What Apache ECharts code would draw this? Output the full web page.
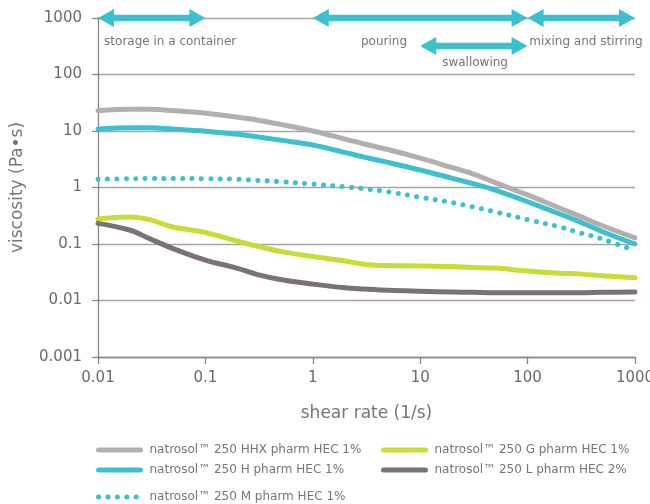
<!DOCTYPE html>
<html>
<head>
<meta charset="utf-8">
<script src="https://cdn.jsdelivr.net/npm/echarts@6/dist/echarts.min.js"></script>
<style>
html,body{margin:0;padding:0;background:#fff;}
#chart{width:650px;height:504px;}
</style>
</head>
<body>
<div id="chart"></div>
<script>
// ---- data ----
const shearRates = [0.01, 0.02, 0.03, 0.05, 0.1, 0.2, 0.3, 0.5, 1, 2, 3, 5, 10, 20, 30, 50, 100, 200, 300, 500, 1000];
const seriesNames = [
  'natrosol™ 250 HHX pharm HEC 1%',
  'natrosol™ 250 H pharm HEC 1%',
  'natrosol™ 250 M pharm HEC 1%',
  'natrosol™ 250 G pharm HEC 1%',
  'natrosol™ 250 L pharm HEC 2%'
];
const hhxValues = [22.9, 24.2, 24.2, 22.9, 20.6, 17.5, 15.7, 13.1, 10.0, 7.2, 5.9, 4.7, 3.3, 2.24, 1.78, 1.22, 0.74, 0.43, 0.314, 0.21, 0.128];
const hValues   = [10.8, 11.4, 11.4, 10.8, 9.9, 8.75, 7.9, 6.9, 5.65, 4.15, 3.45, 2.78, 2.04, 1.45, 1.19, 0.9, 0.56, 0.34, 0.25, 0.165, 0.1];
const mValues   = [1.40, 1.43, 1.44, 1.44, 1.43, 1.40, 1.34, 1.27, 1.15, 1.03, 0.95, 0.84, 0.67, 0.54, 0.46, 0.37, 0.27, 0.2, 0.16, 0.122, 0.076];
const gValues   = [0.277, 0.30, 0.27, 0.20, 0.16, 0.112, 0.092, 0.074, 0.06, 0.05, 0.044, 0.0415, 0.041, 0.04, 0.0385, 0.0375, 0.0333, 0.0305, 0.0296, 0.0275, 0.0253];
const lValues   = [0.232, 0.175, 0.125, 0.083, 0.052, 0.037, 0.029, 0.0235, 0.0195, 0.0168, 0.016, 0.0152, 0.0146, 0.0141, 0.014, 0.0137, 0.0137, 0.0137, 0.0137, 0.014, 0.0141];

// usage ranges (arrows) in data space
const arrowLabels = ['storage in a container', 'pouring', 'mixing and stirring', 'swallowing'];
const arrowStart  = [0.01, 1, 100, 10];
const arrowEnd    = [0.1, 100, 1000, 100];
const arrowLevel  = [1000, 1000, 1000, 320];
const arrowLabelX = [0.047, 4.6, 350, 32.4];
const arrowLabelY = [380, 380, 380, 160];

const xTicks = ['0.01', '0.1', '1', '10', '100', '1000'];
const yTicks = ['0.001', '0.01', '0.1', '1', '10', '100', '1000'];

// ---- style ----
const FONT = 'DejaVu Sans';
const TXT = '#7a7472';
const colors = ['#b4aeac', '#3cc0cd', '#3cc0cd', '#c9db36', '#7a7371'];
const dashes = ['solid', 'solid', [0.1, 9.3], 'solid', 'solid'];
const valueSets = [hhxValues, hValues, mValues, gValues, lValues];

function pairs(vals) { return shearRates.map((x, i) => [x, vals[i]]); }
function fmt(v) { return String(+Number(v).toPrecision(6)); }

const lineSeries = seriesNames.map((name, i) => ({
  name: name,
  type: 'line',
  data: pairs(valueSets[i]),
  smooth: 0.35,
  symbol: 'none',
  z: 3 + i,
  lineStyle: { color: colors[i], width: 5, type: dashes[i], cap: 'round', join: 'round' },
  itemStyle: { color: colors[i] },
  emphasis: { disabled: true }
}));

const arrowData = arrowLabels.map((t, i) => [arrowStart[i], arrowEnd[i], arrowLevel[i], arrowLabelX[i], arrowLabelY[i], t]);

const arrowSeries = {
  type: 'custom',
  name: 'usage',
  data: arrowData,
  encode: { x: [0, 1], y: 2 },
  z: 10,
  silent: true,
  renderItem: function (params, api) {
    const a = api.coord([api.value(0), api.value(2)]);
    const b = api.coord([api.value(1), api.value(2)]);
    const lp = api.coord([api.value(3), api.value(4)]);
    const y = a[1], x1 = a[0], x2 = b[0];
    const hl = 16, hw = 9, sw = 3.2;
    return {
      type: 'group',
      children: [
        {
          type: 'polygon',
          shape: { points: [[x1, y], [x1 + hl, y - hw], [x1 + hl, y - sw], [x2 - hl, y - sw], [x2 - hl, y - hw], [x2, y], [x2 - hl, y + hw], [x2 - hl, y + sw], [x1 + hl, y + sw], [x1 + hl, y + hw]] },
          style: { fill: '#3cc0cd' }
        },
        {
          type: 'text',
          x: lp[0], y: lp[1],
          style: { text: arrowData[params.dataIndex][5], fill: TXT, font: '12px "' + FONT + '"', align: 'center', verticalAlign: 'middle' }
        }
      ]
    };
  }
};

function legendItem(i) {
  return {
    name: seriesNames[i],
    itemStyle: { opacity: 0 },
    lineStyle: { color: colors[i], width: 5, type: dashes[i], cap: 'round' }
  };
}
const legendCommon = {
  orient: 'vertical',
  itemWidth: 42,
  itemHeight: 14,
  itemGap: 8,
  padding: 0,
  selectedMode: false,
  textStyle: { fontFamily: FONT, fontSize: 12, color: TXT, padding: [0, 0, 0, 4] }
};

const option = {
  animation: false,
  backgroundColor: '#ffffff',
  grid: { left: 98, right: 15, top: 18, bottom: 147, containLabel: false, outerBoundsMode: 'none' },
  legend: [
    Object.assign({}, legendCommon, { left: 96, top: 444, data: [0, 1].map(legendItem) }),
    Object.assign({}, legendCommon, { left: 96, top: 491, data: [2].map(legendItem) }),
    Object.assign({}, legendCommon, { left: 381, top: 444, data: [3, 4].map(legendItem) })
  ],
  xAxis: {
    type: 'log', logBase: 10, min: 0.01, max: 1000,
    name: 'shear rate (1/s)', nameLocation: 'middle', nameGap: 48,
    nameTextStyle: { fontFamily: FONT, fontSize: 17, color: TXT },
    axisLine: { show: true, onZero: false, lineStyle: { color: '#8a8482', width: 1.3 } },
    axisTick: { show: true, length: 7, lineStyle: { color: '#8a8482', width: 1.3 } },
    axisLabel: { fontFamily: FONT, fontSize: 15, color: '#6f6968', margin: 14, hideOverlap: false,
      formatter: v => xTicks.indexOf(fmt(v)) >= 0 ? fmt(v) : '' },
    splitLine: { show: false },
    minorTick: { show: false }
  },
  yAxis: {
    type: 'log', logBase: 10, min: 0.001, max: 1000,
    name: 'viscosity (Pa•s)', nameLocation: 'middle', nameGap: 72,
    nameTextStyle: { fontFamily: FONT, fontSize: 17, color: TXT },
    axisLine: { show: true, onZero: false, lineStyle: { color: '#8a8482', width: 1.3 } },
    axisTick: { show: true, length: 6, lineStyle: { color: '#8a8482', width: 1.3 } },
    axisLabel: { fontFamily: FONT, fontSize: 15, color: '#6f6968', margin: 16,
      formatter: v => yTicks.indexOf(fmt(v)) >= 0 ? fmt(v) : '' },
    splitLine: { show: true, lineStyle: { color: '#aaa4a2', width: 1.3 } }
  },
  series: lineSeries.concat([arrowSeries])
};

const chart = echarts.init(document.getElementById('chart'), null, { renderer: 'canvas' });
chart.setOption(option);
</script>
</body>
</html>
